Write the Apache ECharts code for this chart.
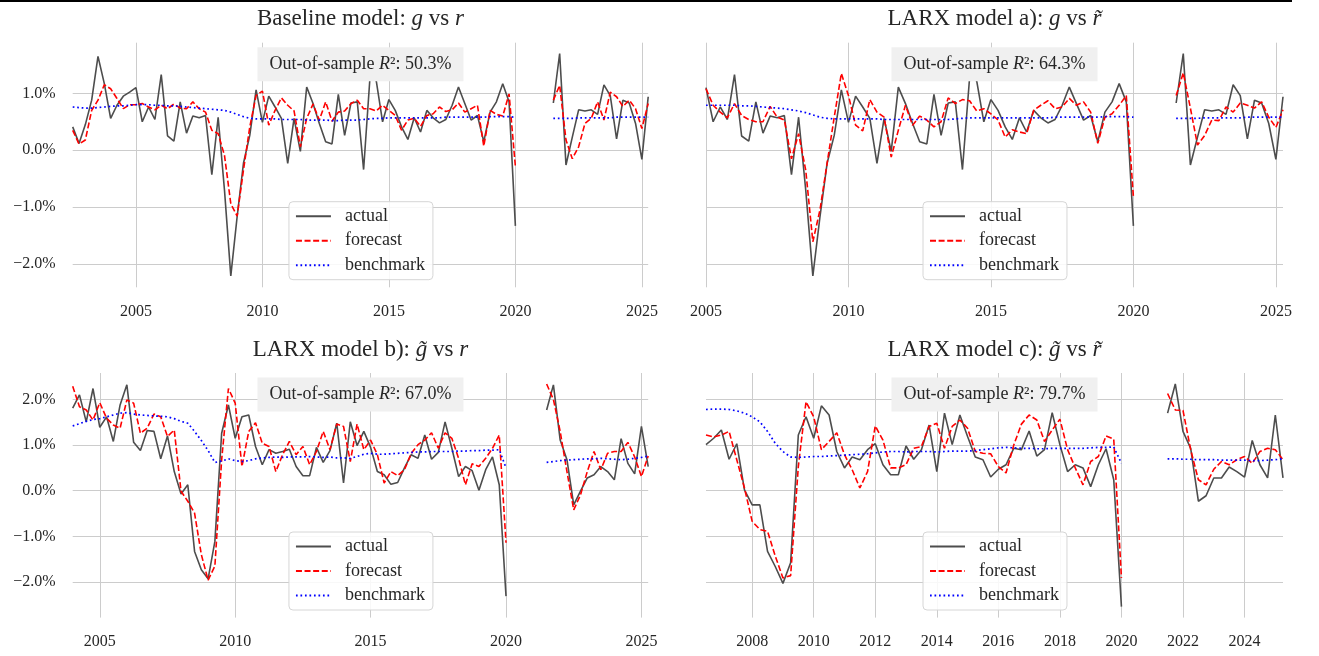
<!DOCTYPE html>
<html><head><meta charset="utf-8">
<script src="https://cdn.jsdelivr.net/npm/echarts@6/dist/echarts.min.js"></script>
<style>html,body{margin:0;padding:0;background:#fff}#c{width:1319px;height:656px}</style>
</head><body><div id="c"></div>
<script>
// ---- data (quarterly, % growth) ----
// Panel a/b top: actual g, quarters 2002Q3 .. 2020Q1, then 2021Q3 .. 2025Q2
const gActualPre = [0.41,0.12,0.45,0.88,1.65,1.17,0.56,0.79,0.95,1.02,1.10,0.50,0.76,0.54,1.33,0.25,0.16,0.85,0.30,0.60,0.57,0.61,-0.43,0.58,-0.70,-2.21,-1.17,-0.23,0.26,1.06,0.49,0.95,0.76,0.56,-0.23,0.56,-0.02,1.11,0.82,0.47,0.15,0.11,0.98,0.26,0.83,0.85,-0.34,1.27,1.22,0.50,0.89,0.70,0.41,0.19,0.57,0.32,0.70,0.57,0.48,0.54,0.79,1.11,0.82,0.53,0.61,0.15,0.67,0.85,1.17,0.85,-1.33];
const gActualPost = [0.83,1.70,-0.26,0.23,0.71,0.69,0.71,0.63,1.15,0.96,0.20,0.88,0.83,0.47,-0.16,0.94];

// Baseline model (starts 2002Q3)
const baseForecastPre = [0.35,0.11,0.18,0.70,0.88,1.15,1.08,0.91,0.73,0.80,0.80,0.82,0.76,0.71,0.79,0.73,0.81,0.74,0.73,0.85,0.73,0.67,0.35,0.29,-0.09,-0.94,-1.16,-0.35,0.41,0.96,1.04,0.44,0.70,0.92,0.79,0.69,0.06,0.56,0.81,0.53,0.85,0.51,0.67,0.69,0.82,0.88,0.73,0.73,0.69,0.79,0.70,0.61,0.35,0.53,0.56,0.42,0.61,0.64,0.76,0.68,0.71,0.83,0.67,0.73,0.79,0.07,0.70,0.63,0.60,0.99,-0.29];
const baseForecastPost = [0.88,1.14,0.18,-0.15,0.06,0.47,0.56,0.85,0.53,1.02,0.94,0.77,0.88,0.73,0.38,0.82];
const baseBenchPre = [0.76,0.75,0.74,0.74,0.75,0.76,0.77,0.78,0.78,0.79,0.80,0.80,0.80,0.79,0.79,0.78,0.78,0.77,0.76,0.75,0.74,0.73,0.72,0.71,0.70,0.67,0.63,0.59,0.56,0.55,0.55,0.55,0.55,0.54,0.54,0.54,0.54,0.53,0.53,0.53,0.53,0.52,0.52,0.53,0.53,0.53,0.54,0.55,0.56,0.56,0.57,0.57,0.57,0.57,0.57,0.57,0.57,0.57,0.57,0.58,0.58,0.58,0.58,0.58,0.58,0.58,0.59,0.59,0.59,0.59,0.58];
const baseBenchPost = [0.56,0.56,0.56,0.56,0.57,0.57,0.57,0.57,0.57,0.57,0.58,0.58,0.58,0.58,0.58,0.58];

// LARX a) (starts 2005Q1)
const aForecastPre = [1.08,0.79,0.67,0.57,0.82,0.61,0.54,0.50,0.50,0.77,0.58,0.53,-0.15,0.29,-0.35,-1.61,-1.05,-0.23,0.58,1.35,0.96,0.44,0.34,0.89,0.67,0.58,-0.12,0.35,0.79,0.44,0.60,0.53,0.41,0.50,0.92,0.82,0.89,0.87,0.69,0.73,0.64,0.53,0.23,0.36,0.32,0.29,0.70,0.79,0.87,0.73,0.76,0.91,0.79,0.85,0.67,0.12,0.58,0.64,0.79,0.96,-0.82];
const aForecastPost = [0.96,1.36,0.74,0.09,0.26,0.53,0.52,0.76,0.67,0.83,0.79,0.74,0.85,0.58,0.40,0.71];
const aBenchPre = [0.79,0.79,0.79,0.79,0.79,0.78,0.78,0.77,0.76,0.75,0.74,0.73,0.71,0.69,0.66,0.62,0.58,0.56,0.55,0.55,0.55,0.55,0.55,0.55,0.55,0.54,0.54,0.54,0.54,0.54,0.54,0.54,0.54,0.54,0.54,0.55,0.56,0.57,0.57,0.57,0.57,0.57,0.57,0.57,0.57,0.57,0.57,0.57,0.57,0.58,0.58,0.58,0.58,0.58,0.58,0.58,0.59,0.59,0.59,0.59,0.58];
const aBenchPost = [0.56,0.56,0.56,0.56,0.57,0.57,0.57,0.57,0.57,0.57,0.58,0.58,0.58,0.58,0.58,0.58];

// LARX b) (starts 2004Q1)
const bActualPre = [1.81,2.10,1.51,2.24,1.39,1.62,1.08,1.88,2.32,1.06,0.88,1.32,1.30,0.70,1.20,0.42,-0.07,0.13,-1.33,-1.73,-1.93,-1.11,1.26,1.88,1.15,1.62,1.66,0.97,0.57,0.90,0.82,0.86,0.91,0.53,0.33,0.33,0.95,0.62,0.88,1.48,0.17,1.51,0.99,1.30,0.95,0.42,0.35,0.14,0.18,0.50,0.79,0.71,1.22,0.69,0.84,1.51,0.93,0.31,0.53,0.44,0.01,0.46,0.74,0.13,-2.31];
const bActualPost = [1.77,2.32,1.11,0.68,-0.31,-0.01,0.28,0.35,0.53,0.42,0.24,1.14,0.60,0.37,1.41,0.53];
const bForecastPre = [2.29,1.84,1.77,1.55,1.93,1.59,1.44,1.37,1.99,1.92,1.26,1.37,1.68,1.62,1.19,1.33,-0.01,-0.23,-0.49,-1.40,-1.96,-1.65,0.68,2.24,1.92,0.53,1.30,1.49,1.04,0.97,0.42,0.79,1.08,0.79,0.97,0.57,0.86,1.30,0.90,1.46,1.41,0.64,1.46,0.90,1.11,0.79,0.17,0.42,0.33,0.46,0.82,1.01,1.11,1.27,0.93,1.27,1.15,0.71,0.13,0.59,0.53,0.71,0.93,1.22,-1.14];
const bForecastPost = [2.34,2.00,1.30,0.42,-0.42,-0.09,0.42,0.86,0.46,0.82,0.86,0.86,1.06,0.74,0.31,0.76];
const bBenchPre = [1.42,1.47,1.52,1.56,1.58,1.62,1.66,1.70,1.71,1.68,1.66,1.65,1.64,1.63,1.62,1.58,1.52,1.48,1.30,1.10,0.88,0.62,0.65,0.70,0.66,0.64,0.66,0.70,0.72,0.73,0.74,0.73,0.74,0.74,0.74,0.75,0.74,0.73,0.74,0.72,0.72,0.71,0.75,0.80,0.82,0.80,0.80,0.81,0.82,0.83,0.84,0.85,0.85,0.86,0.86,0.86,0.86,0.87,0.87,0.88,0.88,0.89,0.89,0.90,0.50];
const bBenchPost = [0.62,0.64,0.66,0.67,0.68,0.69,0.70,0.70,0.71,0.70,0.69,0.68,0.69,0.71,0.73,0.76];

// LARX c) (starts 2006Q3)
const cActualPre = [1.01,1.15,1.33,0.69,1.03,0.02,-0.31,-0.31,-1.33,-1.66,-2.03,-1.58,1.22,1.62,1.15,1.86,1.66,0.86,0.50,0.74,0.68,0.90,1.03,0.57,0.35,0.35,0.98,0.69,0.90,1.44,0.42,1.70,1.01,1.66,1.19,0.74,0.68,0.30,0.47,0.57,0.93,0.90,1.31,0.76,0.90,1.71,1.01,0.42,0.57,0.50,0.09,0.57,0.92,0.24,-2.54];
const cActualPost = [1.70,2.34,1.30,0.93,-0.23,-0.11,0.28,0.28,0.52,0.42,0.30,1.10,0.57,0.28,1.66,0.28];
const cForecastPre = [1.22,1.18,1.22,1.30,0.68,0.06,-0.67,-0.85,-0.89,-1.43,-1.91,-1.86,0.53,1.95,1.62,0.90,1.08,1.27,0.79,0.46,0.06,0.42,1.42,1.11,0.50,0.50,0.57,0.93,0.97,1.41,1.48,0.93,1.41,1.55,1.37,0.86,0.82,0.81,0.53,0.39,1.00,1.46,1.66,1.55,1.08,1.33,1.57,0.90,0.50,0.13,0.64,0.75,1.20,1.13,-1.91];
const cForecastPost = [2.13,1.77,1.76,0.90,0.24,0.13,0.47,0.64,0.57,0.68,0.75,0.60,0.86,0.93,0.90,0.68];
const cBenchPre = [1.78,1.79,1.79,1.78,1.75,1.70,1.62,1.51,1.30,1.04,0.86,0.74,0.73,0.74,0.75,0.75,0.76,0.77,0.78,0.79,0.80,0.81,0.83,0.85,0.86,0.86,0.85,0.86,0.86,0.86,0.85,0.86,0.87,0.87,0.87,0.88,0.90,0.92,0.94,0.95,0.94,0.93,0.93,0.92,0.92,0.93,0.93,0.93,0.93,0.93,0.94,0.95,0.95,0.96,0.60];
const cBenchPost = [0.70,0.70,0.69,0.69,0.68,0.68,0.68,0.67,0.67,0.67,0.67,0.66,0.66,0.67,0.68,0.70];

// axis extents / ticks
const panelStart = [2002.5, 2005.0, 2004.0, 2006.5];
const xEnd = 2025.25;
const postStart = 2021.5;
const xTicks = [[2005,2010,2015,2020,2025],[2005,2010,2015,2020,2025],[2005,2010,2015,2020,2025],[2008,2010,2012,2014,2016,2018,2020,2022,2024]];
const yTopRange = [-2.41, 1.89], yBotRange = [-2.78, 2.58];
const yTopTicks = [-2,-1,0,1], yBotTicks = [-2,-1,0,1,2];
const r2Values = ['50.3%','64.3%','67.0%','79.7%'];
const seriesNames = ['actual','forecast','benchmark'];

// ---- build ----
function pairs(start, pre, post){
  const out = pre.map((v,i)=>[start+0.25*i, v]);
  out.push([2020.75, '-']);
  post.forEach((v,i)=>out.push([postStart+0.25*i, v]));
  return out;
}
const panels = [
  [pairs(panelStart[0], gActualPre, gActualPost), pairs(panelStart[0], baseForecastPre, baseForecastPost), pairs(panelStart[0], baseBenchPre, baseBenchPost)],
  [pairs(panelStart[1], gActualPre.slice(10), gActualPost), pairs(panelStart[1], aForecastPre, aForecastPost), pairs(panelStart[1], aBenchPre, aBenchPost)],
  [pairs(panelStart[2], bActualPre, bActualPost), pairs(panelStart[2], bForecastPre, bForecastPost), pairs(panelStart[2], bBenchPre, bBenchPost)],
  [pairs(panelStart[3], cActualPre, cActualPost), pairs(panelStart[3], cForecastPre, cForecastPost), pairs(panelStart[3], cBenchPre, cBenchPost)]
];

const FONT = '"Liberation Serif","DejaVu Serif",serif';
const TXT = '#262626';
const GRIDC = '#cccccc';
const L = [72.7, 706], W = [575.5, 577], T = [42.7, 373], H = 244.6;
const styles = [
  {color:'#4d4d4d', width:1.6, type:'solid'},
  {color:'#ff0000', width:1.6, type:[6,2.6]},
  {color:'#0000ff', width:1.7, type:[1.7,2.8]}
];
const fmtPct = v => (v<0?'\u2212':'') + Math.abs(v).toFixed(1) + '%';

const grid=[], xAxis=[], yAxis=[], series=[], legend=[], graphic=[];
for(let p=0;p<4;p++){
  const col=p%2, row=Math.floor(p/2);
  grid.push({left:L[col], top:T[row], width:W[col], height:H, containLabel:false});
  xAxis.push({type:'value', gridIndex:p, min:panelStart[p], max:xEnd,
    axisLine:{show:false}, axisTick:{show:false, customValues:xTicks[p]},
    axisLabel:{customValues:xTicks[p], formatter:v=>String(v), fontFamily:FONT, fontSize:16, color:TXT, margin:16},
    splitLine:{show:true, lineStyle:{color:GRIDC, width:1}}});
  const yr = row===0? yTopRange: yBotRange, yt = row===0? yTopTicks: yBotTicks;
  yAxis.push({type:'value', gridIndex:p, min:yr[0], max:yr[1],
    axisLine:{show:false}, axisTick:{show:false, customValues:yt},
    axisLabel:{show:col===0, customValues:yt, formatter:fmtPct, fontFamily:FONT, fontSize:16, color:TXT, margin:17},
    splitLine:{show:true, lineStyle:{color:GRIDC, width:1}}});
  for(let s=0;s<3;s++){
    series.push({name:seriesNames[s], type:'line', xAxisIndex:p, yAxisIndex:p, data:panels[p][s],
      showSymbol:false, symbol:'none', connectNulls:false, animation:false, z:2+s,
      lineStyle:styles[s], itemStyle:{color:styles[s].color}});
  }
  const cx = L[col]+W[col]/2;
  legend.push({orient:'vertical', left:cx-71.5, top: T[row]+159, data:seriesNames,
    backgroundColor:'rgba(255,255,255,0.85)', borderColor:'#d6d6d6', borderWidth:1, borderRadius:4,
    padding:[5.5,8,5.5,6], itemWidth:35, itemHeight:12, itemGap:6.5,
    itemStyle:{color:'rgba(0,0,0,0)', borderWidth:0, opacity:0},
    textStyle:{fontFamily:FONT, fontSize:18, color:TXT, padding:[0,0,0,9]}, selectedMode:false});
  graphic.push({type:'rect', shape:{x:cx-103, y:T[row]+4.5, width:206, height:34}, style:{fill:'#f0f0f0'}, silent:true, z:10});
  graphic.push({type:'text', x:cx, y:T[row]+21.5, z:11, silent:true, style:{
    text:'Out-of-sample {i|R}\u00b2: '+r2Values[p], align:'center', verticalAlign:'middle',
    font:'18px '+FONT, fill:TXT, rich:{i:{fontStyle:'italic', fontFamily:FONT, fontSize:18, fill:TXT}}}});
}
const titleParts = [
  ['Baseline model: ','g','r'],
  ['LARX model a): ','g','r\u0303'],
  ['LARX model b): ','g\u0303','r'],
  ['LARX model c): ','g\u0303','r\u0303']
];
for(let p=0;p<4;p++){
  const col=p%2,row=Math.floor(p/2);
  const t=titleParts[p];
  graphic.push({type:'text', x:L[col]+W[col]/2, y: row===0? 19: 350, silent:true, style:{
    text: t[0]+'{i|'+t[1]+'} vs {i|'+t[2]+'}', align:'center', verticalAlign:'middle',
    font:'23px '+FONT, fill:TXT, rich:{i:{fontStyle:'italic', fontFamily:FONT, fontSize:23, fill:TXT}}}});
}
graphic.push({type:'rect', shape:{x:0,y:0,width:1292,height:2}, style:{fill:'#000'}, silent:true});

const chart = echarts.init(document.getElementById('c'), null, {renderer:'canvas'});
chart.setOption({animation:false, backgroundColor:'#fff', grid, xAxis, yAxis, series, legend, graphic});
</script></body></html>
